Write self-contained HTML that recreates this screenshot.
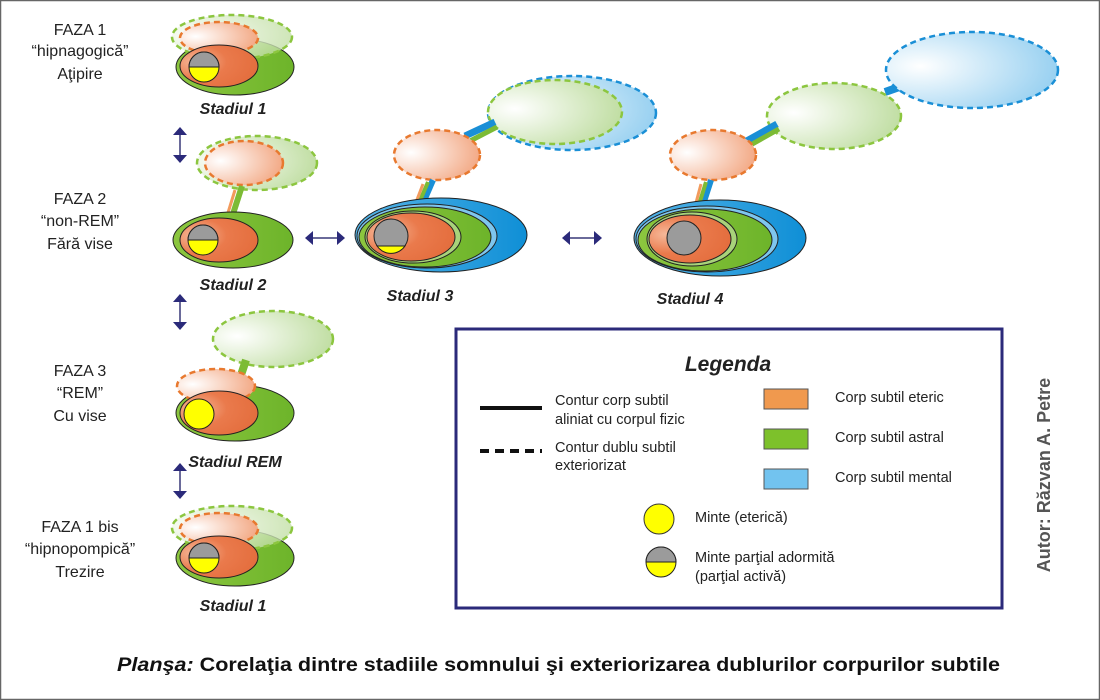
<!DOCTYPE html>
<html><head><meta charset="utf-8"><style>
html,body{margin:0;padding:0;background:#fff}
svg{display:block}
text{font-family:"Liberation Sans",sans-serif}
</style></head><body>
<svg width="1100" height="700" viewBox="0 0 1100 700" xmlns="http://www.w3.org/2000/svg">
<defs>
<radialGradient id="or" cx="0.2" cy="0.4" r="0.8"><stop offset="0" stop-color="#f6b99a"/><stop offset="0.5" stop-color="#ea7a4c"/><stop offset="1" stop-color="#e46e3e"/></radialGradient>
<radialGradient id="orE" cx="0.2" cy="0.45" r="0.85"><stop offset="0" stop-color="#fff"/><stop offset="1" stop-color="#f2a47e"/></radialGradient>
<radialGradient id="grE" cx="0.2" cy="0.45" r="0.9"><stop offset="0" stop-color="#fff"/><stop offset="1" stop-color="#b9da98"/></radialGradient>
<radialGradient id="grT" cx="0.2" cy="0.45" r="0.9"><stop offset="0" stop-color="#fff" stop-opacity="0.9"/><stop offset="1" stop-color="#b9da98" stop-opacity="0.75"/></radialGradient>
<radialGradient id="blE" cx="0.2" cy="0.45" r="0.9"><stop offset="0" stop-color="#fff"/><stop offset="1" stop-color="#8ccbef"/></radialGradient>
<linearGradient id="gr" x1="0" x2="1"><stop offset="0" stop-color="#8cc63f"/><stop offset="1" stop-color="#6db42a"/></linearGradient>
<linearGradient id="bl" x1="0" x2="1"><stop offset="0" stop-color="#55b4e8"/><stop offset="1" stop-color="#0f8fd6"/></linearGradient>
<g id="halfmind"><circle r="15" fill="#ffff00" stroke="#222" stroke-width="1"/><path d="M-15,0 A15,15 0 0 1 15,0 Z" fill="#9b9b9b" stroke="#222" stroke-width="1"/></g>
<g id="arrV" fill="#2b2a7a"><line x1="0" y1="6" x2="0" y2="30" stroke="#6a6a9a" stroke-width="2"/><path d="M-7,8 L0,0 L7,8 Z"/><path d="M-7,28 L0,36 L7,28 Z"/></g>
<g id="arrH" fill="#2b2a7a"><line x1="6" y1="0" x2="34" y2="0" stroke="#6a6a9a" stroke-width="2"/><path d="M8,-7 L0,0 L8,7 Z"/><path d="M32,-7 L40,0 L32,7 Z"/></g>
</defs>
<rect x="0.5" y="0.5" width="1099" height="699" fill="#fff" stroke="#666" stroke-width="1.5"/>

<g font-size="16" fill="#222" text-anchor="middle">
<text x="80" y="35">FAZA 1</text><text x="80" y="56">“hipnagogică”</text><text x="80" y="79">Aţipire</text>
<text x="80" y="204">FAZA 2</text><text x="80" y="226">“non-REM”</text><text x="80" y="249">Fără vise</text>
<text x="80" y="376">FAZA 3</text><text x="80" y="398">“REM”</text><text x="80" y="421">Cu vise</text>
<text x="80" y="532">FAZA 1 bis</text><text x="80" y="554">“hipnopompică”</text><text x="80" y="577">Trezire</text>
</g>

<!-- Stadiul 1 top -->
<ellipse cx="235" cy="67" rx="59" ry="28" fill="url(#gr)" stroke="#222" stroke-width="1"/>
<ellipse cx="232" cy="37" rx="60" ry="22" fill="url(#grT)" stroke="#8cc63f" stroke-width="2.5" stroke-dasharray="6,4"/>
<ellipse cx="219" cy="38" rx="39" ry="16" fill="url(#orE)" stroke="#e8792f" stroke-width="2.5" stroke-dasharray="6,4"/>
<ellipse cx="219" cy="66" rx="39" ry="21" fill="url(#or)" stroke="#222" stroke-width="1"/>
<use href="#halfmind" x="204" y="67"/>
<text x="233" y="114" font-size="16" font-weight="bold" font-style="italic" fill="#222" text-anchor="middle">Stadiul 1</text>
<use href="#arrV" x="180" y="127"/>

<!-- Stadiul 2 -->
<ellipse cx="257" cy="163" rx="60" ry="27" fill="url(#grE)" stroke="#8cc63f" stroke-width="2.5" stroke-dasharray="6,4"/>
<ellipse cx="244" cy="163" rx="39" ry="22" fill="url(#orE)" stroke="#e8792f" stroke-width="2.5" stroke-dasharray="6,4"/>
<line x1="232" y1="217" x2="242" y2="186" stroke="#7cbb35" stroke-width="6"/>
<line x1="227" y1="216" x2="235" y2="190" stroke="#f29a5c" stroke-width="3"/>
<ellipse cx="233" cy="240" rx="60" ry="28" fill="url(#gr)" stroke="#222" stroke-width="1"/>
<ellipse cx="219" cy="240" rx="39" ry="22" fill="url(#or)" stroke="#222" stroke-width="1"/>
<use href="#halfmind" x="203" y="240"/>
<text x="233" y="290" font-size="16" font-weight="bold" font-style="italic" fill="#222" text-anchor="middle">Stadiul 2</text>
<use href="#arrV" x="180" y="294"/>
<use href="#arrH" x="305" y="238"/>

<!-- Stadiul 3 -->
<ellipse cx="572" cy="113" rx="84" ry="37" fill="url(#blE)" stroke="#1a8fd6" stroke-width="2.5" stroke-dasharray="6,4"/>
<ellipse cx="555" cy="112" rx="67" ry="32" fill="url(#grE)" stroke="#8cc63f" stroke-width="2.5" stroke-dasharray="6,4"/>
<line x1="465" y1="136" x2="495" y2="122" stroke="#1a8fd6" stroke-width="7"/>
<line x1="470" y1="141" x2="497" y2="127" stroke="#7cbb35" stroke-width="5"/>
<ellipse cx="437" cy="155" rx="43" ry="25" fill="url(#orE)" stroke="#e8792f" stroke-width="2.5" stroke-dasharray="6,4"/>
<line x1="420" y1="210" x2="433" y2="180" stroke="#1a8fd6" stroke-width="6"/>
<line x1="416" y1="210" x2="428" y2="182" stroke="#7cbb35" stroke-width="4"/>
<line x1="413" y1="210" x2="423" y2="184" stroke="#f29a5c" stroke-width="3"/>
<ellipse cx="441" cy="235" rx="86" ry="37" fill="url(#bl)" stroke="#222" stroke-width="1"/>
<ellipse cx="427" cy="236" rx="70" ry="32" fill="#7ec6ee" stroke="#222" stroke-width="1"/>
<ellipse cx="425" cy="237" rx="66" ry="30" fill="url(#gr)" stroke="#222" stroke-width="1"/>
<ellipse cx="413" cy="237" rx="48" ry="26" fill="#a8d37a" stroke="#222" stroke-width="1"/>
<ellipse cx="411" cy="237" rx="44" ry="24" fill="url(#or)" stroke="#222" stroke-width="1"/>
<circle cx="391" cy="236" r="17" fill="#9b9b9b" stroke="#222" stroke-width="1"/>
<path d="M377,246 A17,17 0 0 0 405,246 Z" fill="#ffff00" stroke="#222" stroke-width="1"/>
<text x="420" y="301" font-size="16" font-weight="bold" font-style="italic" fill="#222" text-anchor="middle">Stadiul 3</text>
<use href="#arrH" x="562" y="238"/>

<!-- Stadiul 4 -->
<line x1="885" y1="92" x2="925" y2="78" stroke="#1a8fd6" stroke-width="8"/>
<ellipse cx="972" cy="70" rx="86" ry="38" fill="url(#blE)" stroke="#1a8fd6" stroke-width="2.5" stroke-dasharray="6,4"/>
<ellipse cx="834" cy="116" rx="67" ry="33" fill="url(#grE)" stroke="#8cc63f" stroke-width="2.5" stroke-dasharray="6,4"/>
<line x1="743" y1="143" x2="777" y2="124" stroke="#1a8fd6" stroke-width="7"/>
<line x1="747" y1="147" x2="779" y2="129" stroke="#7cbb35" stroke-width="5"/>
<ellipse cx="713" cy="155" rx="43" ry="25" fill="url(#orE)" stroke="#e8792f" stroke-width="2.5" stroke-dasharray="6,4"/>
<line x1="700" y1="214" x2="711" y2="180" stroke="#1a8fd6" stroke-width="6"/>
<line x1="696" y1="214" x2="706" y2="182" stroke="#7cbb35" stroke-width="4"/>
<line x1="693" y1="214" x2="701" y2="184" stroke="#f29a5c" stroke-width="3"/>
<ellipse cx="720" cy="238" rx="86" ry="38" fill="url(#bl)" stroke="#222" stroke-width="1"/>
<ellipse cx="707" cy="239" rx="71" ry="33" fill="#7ec6ee" stroke="#222" stroke-width="1"/>
<ellipse cx="705" cy="240" rx="67" ry="31" fill="url(#gr)" stroke="#222" stroke-width="1"/>
<ellipse cx="692" cy="239" rx="45" ry="27" fill="#a8d37a" stroke="#222" stroke-width="1"/>
<ellipse cx="690" cy="239" rx="41" ry="24" fill="url(#or)" stroke="#222" stroke-width="1"/>
<circle cx="684" cy="238" r="17" fill="#9b9b9b" stroke="#222" stroke-width="1"/>
<text x="690" y="304" font-size="16" font-weight="bold" font-style="italic" fill="#222" text-anchor="middle">Stadiul 4</text>

<!-- REM -->
<ellipse cx="273" cy="339" rx="60" ry="28" fill="url(#grE)" stroke="#8cc63f" stroke-width="2.5" stroke-dasharray="6,4"/>
<line x1="240" y1="378" x2="246" y2="360" stroke="#7cbb35" stroke-width="8"/>
<ellipse cx="235" cy="413" rx="59" ry="28" fill="url(#gr)" stroke="#222" stroke-width="1"/>
<ellipse cx="216" cy="386" rx="39" ry="17" fill="url(#orE)" stroke="#e8792f" stroke-width="2.5" stroke-dasharray="6,4"/>
<ellipse cx="219" cy="413" rx="39" ry="22" fill="url(#or)" stroke="#222" stroke-width="1"/>
<circle cx="199" cy="414" r="15" fill="#ffff00" stroke="#222" stroke-width="1"/>
<text x="235" y="467" font-size="16" font-weight="bold" font-style="italic" fill="#222" text-anchor="middle">Stadiul REM</text>
<use href="#arrV" x="180" y="463"/>

<!-- Stadiul 1 bottom -->
<ellipse cx="235" cy="558" rx="59" ry="28" fill="url(#gr)" stroke="#222" stroke-width="1"/>
<ellipse cx="232" cy="528" rx="60" ry="22" fill="url(#grT)" stroke="#8cc63f" stroke-width="2.5" stroke-dasharray="6,4"/>
<ellipse cx="219" cy="529" rx="39" ry="16" fill="url(#orE)" stroke="#e8792f" stroke-width="2.5" stroke-dasharray="6,4"/>
<ellipse cx="219" cy="557" rx="39" ry="21" fill="url(#or)" stroke="#222" stroke-width="1"/>
<use href="#halfmind" x="204" y="558"/>
<text x="233" y="611" font-size="16" font-weight="bold" font-style="italic" fill="#222" text-anchor="middle">Stadiul 1</text>

<!-- Legend -->
<rect x="456" y="329" width="546" height="279" fill="#fff" stroke="#2b2a7a" stroke-width="3"/>
<text x="728" y="371" font-size="21" font-weight="bold" font-style="italic" fill="#222" text-anchor="middle">Legenda</text>
<line x1="480" y1="408" x2="542" y2="408" stroke="#111" stroke-width="4"/>
<line x1="480" y1="451" x2="542" y2="451" stroke="#111" stroke-width="4" stroke-dasharray="9,6"/>
<g font-size="14.5" fill="#222">
<text x="555" y="405">Contur corp subtil</text>
<text x="555" y="424">aliniat cu corpul fizic</text>
<text x="555" y="452">Contur dublu subtil</text>
<text x="555" y="470">exteriorizat</text>
<text x="835" y="402">Corp subtil eteric</text>
<text x="835" y="442">Corp subtil astral</text>
<text x="835" y="482">Corp subtil mental</text>
<text x="695" y="522">Minte (eterică)</text>
<text x="695" y="562">Minte parţial adormită</text>
<text x="695" y="581">(parţial activă)</text>
</g>
<rect x="764" y="389" width="44" height="20" fill="#f0994e" stroke="#555" stroke-width="1"/>
<rect x="764" y="429" width="44" height="20" fill="#7dc12b" stroke="#555" stroke-width="1"/>
<rect x="764" y="469" width="44" height="20" fill="#72c3ef" stroke="#555" stroke-width="1"/>
<circle cx="659" cy="519" r="15" fill="#ffff00" stroke="#333" stroke-width="1"/>
<use href="#halfmind" x="661" y="562"/>

<text transform="translate(1050,475) rotate(-90)" font-size="18" font-weight="bold" fill="#555" text-anchor="middle">Autor: Răzvan A. Petre</text>

<text x="117" y="671" font-size="19" font-weight="bold" fill="#111" textLength="883" lengthAdjust="spacingAndGlyphs"><tspan font-style="italic">Planşa:</tspan> Corelaţia dintre stadiile somnului şi exteriorizarea dublurilor corpurilor subtile</text>
</svg>
</body></html>
